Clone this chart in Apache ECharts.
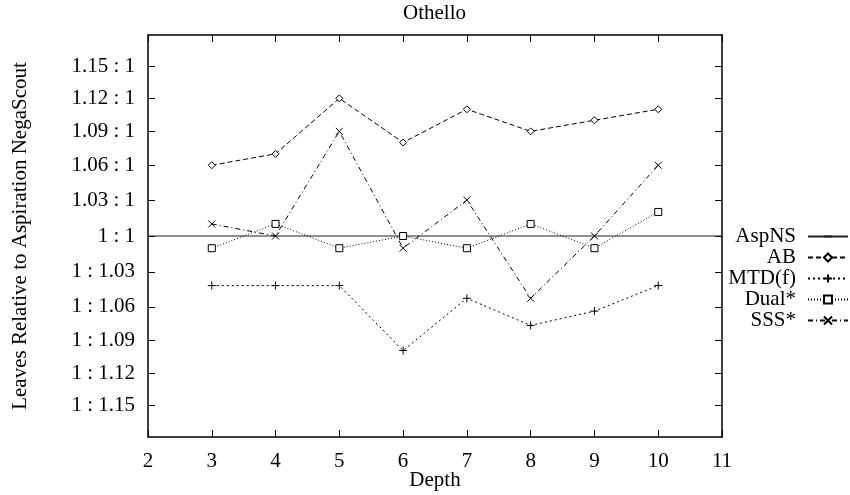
<!DOCTYPE html>
<html><head><meta charset="utf-8">
<script src="https://cdn.jsdelivr.net/npm/echarts@6/dist/echarts.min.js"></script>
<style>html,body{margin:0;padding:0;background:#fff}#c{width:850px;height:495px}</style>
</head><body><div id="c"></div>
<script>
// Data: ratio of leaves relative to Aspiration NegaScout (r > 1 means "r : 1", r < 1 means "1 : 1/r")
const depths = [3, 4, 5, 6, 7, 8, 9, 10];
const aspnsDepths = [2, 11];
const aspnsValues = [1, 1];
const abValues   = [1.06, 1.07, 1.12, 1.08, 1.11, 1.09, 1.10, 1.11];
const mtdfValues = [0.960, 0.960, 0.960, 0.910, 0.950, 0.929, 0.940, 0.960];
const dualValues = [0.990, 1.010, 0.990, 1.000, 0.990, 1.010, 0.990, 1.020];
const sssValues  = [1.010, 1.000, 1.090, 0.990, 1.030, 0.950, 1.000, 1.060];

const yTickRatios = [1.15, 1.12, 1.09, 1.06, 1.03, 1, 1/1.03, 1/1.06, 1/1.09, 1/1.12, 1/1.15];
const yTickLabels = ['1.15 : 1', '1.12 : 1', '1.09 : 1', '1.06 : 1', '1.03 : 1', '1 : 1',
                     '1 : 1.03', '1 : 1.06', '1 : 1.09', '1 : 1.12', '1 : 1.15'];
const yRangeRatio = 1.18;
const xMin = 2, xMax = 11, xInterval = 1;

const FONT = '"Liberation Serif", "Times New Roman", serif';
const FS = 21;
const yTickVals = yTickRatios.map(r => Math.log(r));
function labelFor(v) {
  let best = 0, bd = Infinity;
  yTickVals.forEach((t, i) => { const d = Math.abs(t - v); if (d < bd) { bd = d; best = i; } });
  return yTickLabels[best];
}
function toData(xs, vals) { return xs.map((x, i) => [x, Math.log(vals[i])]); }

const PLUS = 'path://M0,5L10,5M5,0L5,10';
const CROSS = 'path://M0,0L10,10M10,0L0,10';
const HLINE = 'path://M0,0L0,0M0,5L10,5M10,10L10,10';

const seriesDefs = [
  { name: 'AspNS', xs: aspnsDepths, vals: aspnsValues, symbol: HLINE, size: 1, show: false, dash: 'solid', color: '#222' },
  { name: 'AB', xs: depths, vals: abValues, symbol: 'diamond', size: 7, dash: [5, 3] },
  { name: 'MTD(f)', xs: depths, vals: mtdfValues, symbol: PLUS, size: 8, dash: [2, 3] },
  { name: 'Dual*', xs: depths, vals: dualValues, symbol: 'rect', size: 7, dash: [1, 2] },
  { name: 'SSS*', xs: depths, vals: sssValues, symbol: CROSS, size: 7, dash: [5, 3, 1, 3] }
];

const series = seriesDefs.map(s => ({
  name: s.name, type: 'line', data: toData(s.xs, s.vals),
  symbol: s.symbol, symbolSize: s.size, showSymbol: s.show !== false,
  color: s.color || '#000',
  lineStyle: { color: s.color || '#000', width: 1, type: s.dash },
  itemStyle: { color: '#fff', borderColor: s.color || '#000', borderWidth: 1 },
  emphasis: { disabled: true }, animation: false, z: 3
}));

const legends = seriesDefs.map((s, i) => ({
  data: [s.name], orient: 'horizontal', right: 1, top: 236 + 21 * i - 10, padding: 0,
  align: 'right', itemWidth: 40, itemHeight: 10, selectedMode: false,
  textStyle: { fontFamily: FONT, fontSize: FS, color: '#000', padding: [0, 7, 0, 0] }
}));

const axisLine = { show: true, onZero: false, lineStyle: { color: '#000', width: 1.5 } };
const tick = { show: true, inside: true, length: 7, lineStyle: { color: '#000', width: 1 } };

const option = {
  backgroundColor: '#fff',
  title: { text: 'Othello', left: 403, top: 3, padding: [0, 0, 0, 0],
    textStyle: { fontFamily: FONT, fontSize: FS, fontWeight: 'normal', color: '#000' } },
  legend: legends,
  grid: { left: 148, right: 128, top: 35, bottom: 58, show: false, outerBoundsMode: 'none', containLabel: false },
  xAxis: [
    { type: 'value', min: xMin, max: xMax, interval: xInterval, position: 'bottom',
      axisLine, axisTick: tick, splitLine: { show: false },
      axisLabel: { margin: 14, fontFamily: FONT, fontSize: FS, color: '#000' },
      name: 'Depth', nameLocation: 'middle', nameGap: 33, nameMoveOverlap: false,
      nameTextStyle: { fontFamily: FONT, fontSize: FS, color: '#000' } },
    { type: 'value', min: xMin, max: xMax, interval: xInterval, position: 'top',
      axisLine, axisTick: tick, splitLine: { show: false }, axisLabel: { show: false } }
  ],
  yAxis: [
    { type: 'value', min: -Math.log(yRangeRatio), max: Math.log(yRangeRatio), position: 'left',
      axisLine, splitLine: { show: false },
      axisTick: Object.assign({}, tick, { customValues: yTickVals }),
      axisLabel: { customValues: yTickVals, formatter: labelFor, margin: 13,
        fontFamily: FONT, fontSize: FS, color: '#000' },
      name: 'Leaves Relative to Aspiration NegaScout', nameLocation: 'middle', nameGap: 117,
      nameMoveOverlap: false,
      nameTextStyle: { fontFamily: FONT, fontSize: FS, color: '#000' } },
    { type: 'value', min: -Math.log(yRangeRatio), max: Math.log(yRangeRatio), position: 'right',
      axisLine, splitLine: { show: false },
      axisTick: Object.assign({}, tick, { customValues: yTickVals }),
      axisLabel: { show: false } }
  ],
  series
};
const chart = echarts.init(document.getElementById('c'), null, { renderer: 'canvas' });
chart.setOption(option);
</script></body></html>
